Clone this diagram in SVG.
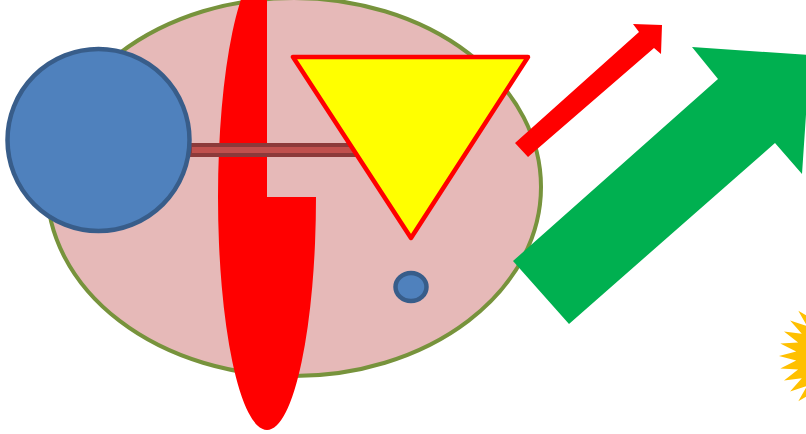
<svg xmlns="http://www.w3.org/2000/svg" width="806" height="434" viewBox="0 0 806 434">
<style>
.blue{fill:#4F81BD;stroke:#385D8A;stroke-width:4.5}
.red{fill:#FF0000}
</style>
<rect width="806" height="434" fill="#FFFFFF"/>
<g id="big-ellipse"><ellipse cx="294" cy="187" rx="247" ry="189" fill="#E6B9B8" stroke="#77933C" stroke-width="4"/></g>
<g id="red-pie"><path class="red" d="M267,197 L316,197 A49,233 0 1 1 267,-36 Z"/></g>
<g id="bar"><rect x="190" y="145" width="175" height="10" fill="#C0504D" stroke="#8C3A3A" stroke-width="4"/></g>
<g id="blue-circle"><circle class="blue" cx="98.5" cy="140" r="91"/></g>
<g id="triangle"><polygon points="293,57 528,57 411,238" fill="#FFFF00" stroke="#FF0000" stroke-width="4.5" stroke-linejoin="round"/></g>
<g id="small-circle"><ellipse class="blue" cx="411" cy="287" rx="15.5" ry="14"/></g>
<g id="red-arrow"><polygon class="red" points="515,143 639,32 633,24 662,25 661,54 654,48 528,157"/></g>
<g id="green-arrow"><polygon fill="#00B050" points="513,261 718,79 692,47 810,55 802,174 775,143 569,324"/></g>
<g id="star"><polygon fill="#FFC000" points="845,292 840.2,309.2 832.1,293.2 830.8,311 819.7,296.9 821.9,314.5 808.3,302.8 813.9,319.7 798.3,310.7 807.1,326.2 790.1,320.4 801.8,333.8 784,331.5 798.1,342.4 780.3,343.5 796.2,351.4 779,356 796.2,360.6 780.3,368.5 798.1,369.6 784,380.5 801.8,378.2 790.1,391.6 807.1,385.8 798.3,401.3 813.9,392.3 808.3,409.2 821.9,397.5 819.7,415.1 830.8,401 832.1,418.8 840.2,402.8 845,420 920,356"/></g>
</svg>
